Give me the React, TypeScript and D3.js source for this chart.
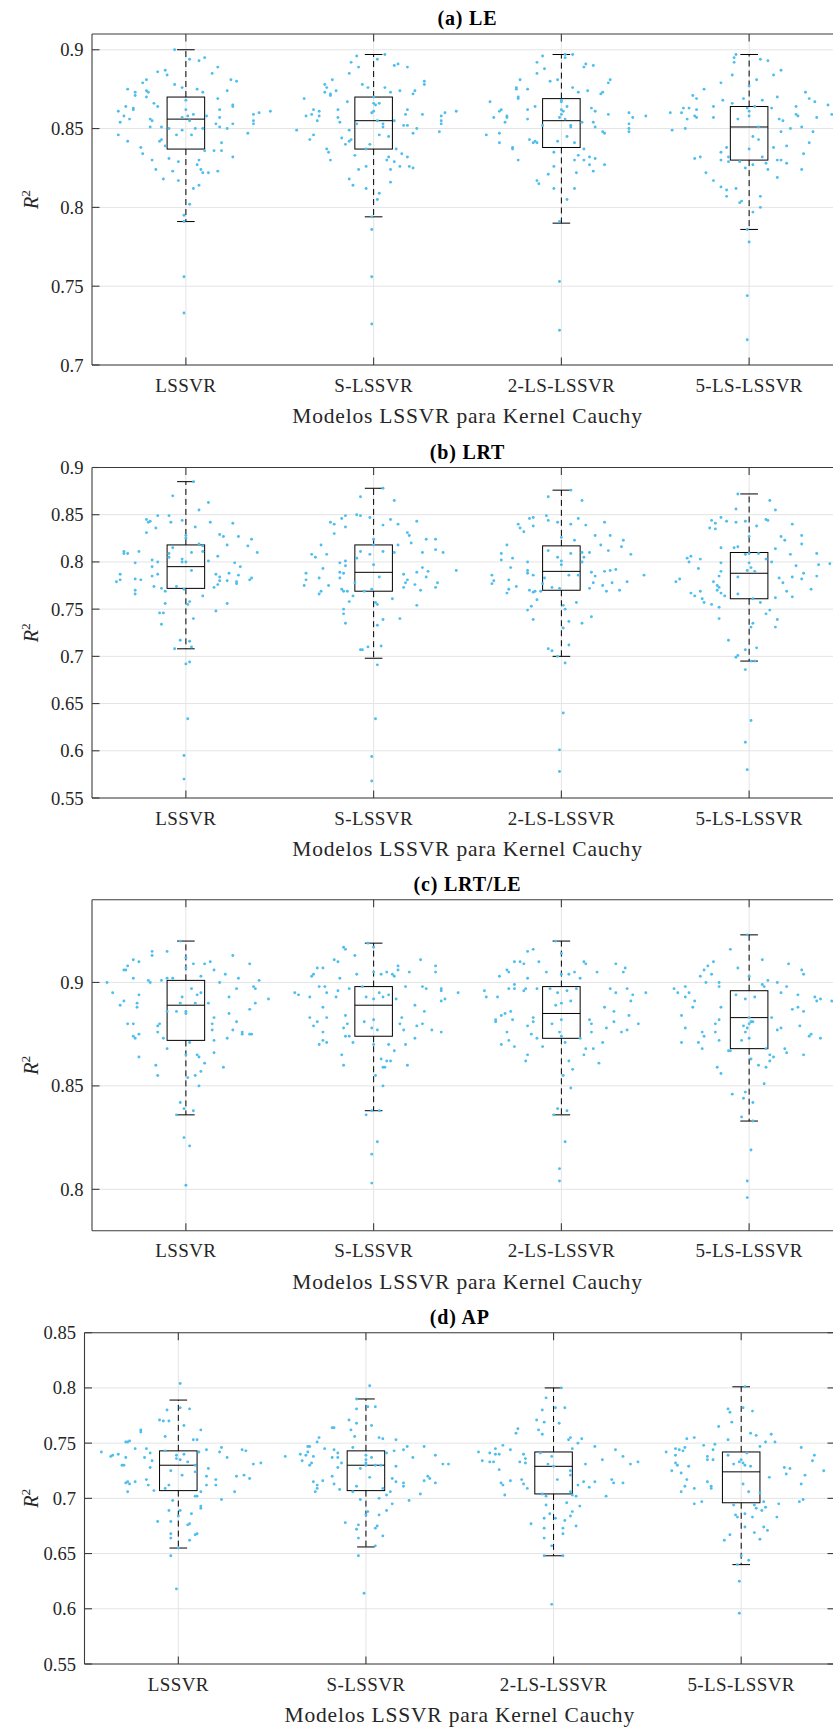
import React from "react";
import * as d3 from "d3";

// ---------- categories ----------
const categories = ["LSSVR", "S-LSSVR", "2-LS-LSSVR", "5-LS-LSSVR"];

// ---------- panel titles & axis ----------
const panelTitles = ["(a) LE", "(b) LRT", "(c) LRT/LE", "(d) AP"];
const xAxisTitle = "Modelos LSSVR para Kernel Cauchy";
const yDomains: [number, number][] = [[0.7, 0.91], [0.55, 0.9], [0.78, 0.94], [0.55, 0.85]];
const yTicksA = [0.7, 0.75, 0.8, 0.85, 0.9];
const yTicksB = [0.55, 0.6, 0.65, 0.7, 0.75, 0.8, 0.85, 0.9];
const yTicksC = [0.8, 0.85, 0.9];
const yTicksD = [0.55, 0.6, 0.65, 0.7, 0.75, 0.8, 0.85];

// ---------- box statistics ----------
const leQ1 = [0.837, 0.837, 0.838, 0.830];
const leMed = [0.856, 0.855, 0.855, 0.851];
const leQ3 = [0.870, 0.870, 0.869, 0.864];
const leLo = [0.791, 0.794, 0.790, 0.786];
const leHi = [0.900, 0.897, 0.897, 0.897];

const lrtQ1 = [0.772, 0.769, 0.770, 0.761];
const lrtMed = [0.795, 0.789, 0.790, 0.788];
const lrtQ3 = [0.818, 0.818, 0.817, 0.810];
const lrtLo = [0.708, 0.698, 0.700, 0.695];
const lrtHi = [0.885, 0.878, 0.876, 0.872];

const lrtleQ1 = [0.872, 0.874, 0.873, 0.868];
const lrtleMed = [0.889, 0.889, 0.885, 0.883];
const lrtleQ3 = [0.901, 0.898, 0.898, 0.896];
const lrtleLo = [0.836, 0.838, 0.836, 0.833];
const lrtleHi = [0.920, 0.919, 0.920, 0.923];

const apQ1 = [0.707, 0.707, 0.704, 0.696];
const apMed = [0.730, 0.730, 0.729, 0.724];
const apQ3 = [0.743, 0.743, 0.742, 0.742];
const apLo = [0.655, 0.656, 0.648, 0.640];
const apHi = [0.789, 0.790, 0.800, 0.801];

// ---------- scatter points: [jitter (category units), R2] ----------
const leG1 = [[-0.06,0.900],[0.02,0.894],[0.07,0.893],[0.10,0.895],[0.17,0.889],[-0.11,0.887],[-0.10,0.884],[-0.15,0.886],[0.14,0.885],[-0.21,0.881],[-0.23,0.879],[-0.06,0.878],[-0.02,0.876],[0.24,0.881],[0.27,0.880],[-0.31,0.875],[-0.27,0.873],[-0.27,0.871],[-0.21,0.874],[-0.20,0.873],[-0.21,0.870],[0.06,0.875],[0.09,0.873],[0.22,0.874],[0.17,0.869],[-0.17,0.866],[-0.15,0.864],[0.00,0.868],[0.25,0.865],[0.25,0.864],[-0.36,0.861],[-0.32,0.864],[-0.28,0.863],[-0.28,0.862],[-0.33,0.858],[-0.30,0.856],[-0.35,0.854],[-0.19,0.856],[-0.18,0.855],[-0.19,0.851],[0.00,0.862],[0.04,0.859],[-0.02,0.857],[0.01,0.858],[0.11,0.858],[0.18,0.862],[0.18,0.857],[0.16,0.853],[0.18,0.851],[0.25,0.853],[0.22,0.850],[0.36,0.859],[0.39,0.860],[0.36,0.855],[0.36,0.853],[0.45,0.861],[0.33,0.847],[-0.36,0.846],[-0.31,0.842],[-0.13,0.851],[-0.09,0.850],[-0.05,0.846],[-0.02,0.849],[0.02,0.855],[0.05,0.850],[0.09,0.850],[0.03,0.846],[-0.14,0.842],[-0.13,0.843],[-0.11,0.839],[-0.24,0.838],[-0.23,0.834],[-0.18,0.830],[-0.16,0.824],[-0.12,0.818],[-0.09,0.831],[-0.07,0.823],[-0.04,0.829],[-0.04,0.817],[0.10,0.836],[0.15,0.836],[0.19,0.841],[0.19,0.836],[0.25,0.832],[0.07,0.830],[0.06,0.827],[0.08,0.824],[0.09,0.822],[0.12,0.822],[0.17,0.823],[0.04,0.812],[0.07,0.814],[0.02,0.802],[-0.01,0.795],[-0.01,0.791],[-0.01,0.756],[-0.01,0.733]];
const leG2 = [[-0.09,0.896],[0.06,0.897],[-0.12,0.892],[-0.08,0.889],[-0.13,0.885],[0.02,0.894],[0.11,0.890],[0.13,0.891],[0.18,0.889],[-0.22,0.881],[-0.26,0.878],[-0.25,0.876],[-0.26,0.873],[-0.23,0.872],[-0.23,0.871],[-0.20,0.874],[-0.06,0.878],[-0.03,0.876],[0.06,0.876],[0.09,0.873],[0.14,0.874],[0.21,0.872],[0.22,0.874],[0.27,0.880],[0.27,0.878],[-0.37,0.869],[-0.14,0.867],[0.00,0.870],[0.00,0.866],[0.01,0.865],[0.03,0.866],[-0.32,0.862],[-0.29,0.861],[-0.36,0.858],[-0.33,0.859],[-0.29,0.858],[-0.30,0.855],[-0.19,0.862],[-0.19,0.857],[-0.18,0.854],[-0.01,0.860],[0.00,0.861],[0.18,0.862],[0.17,0.859],[0.26,0.859],[0.38,0.860],[0.36,0.858],[0.36,0.855],[0.36,0.853],[0.44,0.861],[0.02,0.855],[0.11,0.855],[0.05,0.853],[0.05,0.851],[-0.09,0.853],[-0.13,0.849],[0.16,0.852],[0.18,0.852],[0.23,0.850],[0.21,0.847],[-0.41,0.849],[-0.32,0.846],[-0.34,0.843],[-0.17,0.844],[-0.15,0.840],[-0.13,0.842],[-0.12,0.843],[-0.02,0.840],[0.03,0.846],[0.08,0.845],[0.35,0.848],[-0.04,0.837],[-0.25,0.837],[-0.24,0.835],[-0.23,0.830],[-0.10,0.833],[-0.08,0.824],[-0.04,0.826],[0.12,0.837],[0.15,0.834],[0.18,0.832],[0.08,0.832],[0.07,0.830],[0.11,0.829],[0.14,0.826],[0.19,0.826],[0.21,0.825],[0.09,0.824],[-0.13,0.818],[-0.11,0.814],[-0.04,0.812],[0.09,0.816],[0.03,0.809],[0.02,0.805],[-0.01,0.794],[-0.01,0.786],[-0.01,0.756],[-0.01,0.726]];
const leG3 = [[0.02,0.897],[0.06,0.897],[0.02,0.895],[-0.10,0.896],[-0.13,0.892],[-0.09,0.888],[-0.13,0.885],[-0.02,0.881],[-0.06,0.880],[0.12,0.889],[0.13,0.891],[0.17,0.890],[0.26,0.881],[0.25,0.879],[-0.22,0.881],[-0.24,0.876],[-0.24,0.875],[-0.18,0.875],[-0.23,0.870],[-0.23,0.869],[-0.38,0.867],[-0.32,0.862],[-0.33,0.861],[-0.36,0.857],[-0.29,0.858],[-0.29,0.857],[-0.30,0.854],[-0.40,0.846],[-0.33,0.847],[-0.33,0.841],[-0.26,0.838],[-0.26,0.837],[-0.23,0.830],[-0.14,0.864],[-0.18,0.862],[-0.18,0.856],[0.00,0.868],[0.00,0.867],[0.03,0.864],[0.00,0.862],[0.01,0.861],[0.00,0.859],[0.02,0.856],[-0.01,0.857],[0.06,0.876],[0.09,0.873],[0.14,0.874],[0.21,0.872],[0.22,0.873],[0.16,0.863],[0.18,0.861],[0.25,0.859],[0.11,0.854],[0.17,0.854],[0.18,0.851],[0.05,0.852],[0.05,0.851],[0.03,0.845],[-0.10,0.852],[0.22,0.848],[0.23,0.847],[0.36,0.860],[0.38,0.857],[0.36,0.853],[0.36,0.850],[0.36,0.848],[0.45,0.858],[-0.17,0.843],[-0.15,0.841],[-0.14,0.842],[-0.13,0.841],[-0.02,0.842],[0.07,0.841],[-0.04,0.835],[0.12,0.837],[0.09,0.833],[0.07,0.830],[0.12,0.830],[0.15,0.832],[0.18,0.831],[0.17,0.823],[0.15,0.827],[0.23,0.827],[-0.04,0.826],[-0.07,0.821],[-0.13,0.817],[-0.12,0.815],[-0.04,0.812],[0.08,0.822],[0.07,0.812],[0.03,0.805],[-0.01,0.791],[-0.01,0.753],[-0.01,0.722]];
const leG4 = [[-0.07,0.897],[-0.08,0.895],[-0.08,0.892],[-0.09,0.884],[0.06,0.894],[0.10,0.893],[0.17,0.887],[0.13,0.884],[0.04,0.881],[-0.15,0.879],[-0.24,0.875],[0.00,0.877],[-0.30,0.871],[-0.28,0.869],[-0.28,0.862],[-0.35,0.863],[-0.32,0.863],[-0.36,0.860],[-0.33,0.856],[-0.34,0.850],[-0.42,0.860],[-0.41,0.849],[-0.29,0.858],[-0.28,0.857],[-0.19,0.864],[-0.19,0.857],[-0.14,0.868],[-0.09,0.866],[-0.03,0.869],[-0.01,0.863],[0.00,0.861],[0.00,0.858],[0.03,0.864],[0.07,0.868],[0.12,0.863],[-0.06,0.856],[0.05,0.851],[0.02,0.845],[0.05,0.843],[0.15,0.870],[0.16,0.856],[0.18,0.855],[0.17,0.848],[0.22,0.850],[0.25,0.864],[0.25,0.859],[0.26,0.858],[0.30,0.873],[0.32,0.869],[0.35,0.867],[0.36,0.857],[0.28,0.851],[0.34,0.848],[0.32,0.841],[0.29,0.834],[0.28,0.824],[0.42,0.865],[0.44,0.859],[0.00,0.837],[0.07,0.832],[0.09,0.828],[0.13,0.838],[0.20,0.839],[0.15,0.830],[0.17,0.830],[0.20,0.828],[0.10,0.824],[0.15,0.819],[-0.12,0.838],[-0.15,0.835],[-0.15,0.830],[-0.11,0.832],[-0.11,0.829],[-0.05,0.829],[-0.02,0.825],[0.02,0.827],[-0.29,0.831],[-0.26,0.832],[-0.23,0.822],[-0.19,0.817],[-0.15,0.813],[-0.12,0.811],[-0.12,0.807],[-0.07,0.812],[-0.04,0.804],[-0.05,0.803],[0.06,0.807],[0.06,0.800],[0.02,0.797],[-0.01,0.786],[0.00,0.778],[-0.01,0.744],[-0.01,0.716]];

const lrtG1 = [[0.04,0.885],[-0.07,0.870],[0.12,0.863],[0.07,0.855],[-0.21,0.845],[-0.19,0.843],[-0.20,0.842],[-0.15,0.849],[-0.16,0.836],[-0.09,0.849],[-0.08,0.842],[-0.02,0.844],[-0.21,0.831],[0.13,0.842],[0.05,0.837],[0.00,0.828],[0.00,0.825],[0.25,0.841],[0.18,0.829],[0.20,0.827],[0.22,0.818],[0.28,0.827],[0.35,0.824],[0.33,0.817],[0.38,0.810],[0.09,0.817],[0.07,0.819],[-0.33,0.811],[-0.33,0.809],[-0.31,0.809],[-0.25,0.811],[-0.07,0.815],[-0.09,0.809],[-0.02,0.803],[0.03,0.810],[0.09,0.811],[-0.18,0.802],[-0.15,0.800],[-0.18,0.795],[-0.15,0.787],[-0.18,0.785],[-0.09,0.805],[-0.02,0.800],[0.00,0.800],[0.03,0.791],[-0.27,0.799],[-0.35,0.787],[-0.37,0.779],[-0.35,0.781],[-0.27,0.782],[-0.24,0.781],[-0.27,0.770],[-0.27,0.766],[-0.17,0.774],[-0.13,0.772],[-0.11,0.769],[-0.05,0.774],[-0.01,0.771],[0.12,0.801],[0.17,0.806],[0.26,0.799],[0.29,0.795],[0.16,0.787],[0.18,0.784],[0.18,0.780],[0.17,0.776],[0.15,0.773],[0.23,0.788],[0.22,0.780],[0.27,0.779],[0.27,0.777],[0.28,0.786],[0.35,0.783],[0.34,0.781],[0.09,0.764],[0.02,0.758],[0.01,0.755],[0.04,0.740],[-0.11,0.756],[-0.12,0.746],[-0.14,0.746],[-0.13,0.734],[0.16,0.748],[0.22,0.756],[-0.03,0.717],[-0.06,0.708],[0.02,0.716],[0.03,0.710],[0.00,0.692],[0.02,0.694],[0.01,0.634],[-0.01,0.595],[-0.01,0.570]];
const lrtG2 = [[0.05,0.878],[-0.07,0.869],[0.11,0.865],[-0.09,0.850],[-0.07,0.849],[-0.02,0.847],[-0.15,0.849],[-0.17,0.846],[-0.23,0.842],[-0.21,0.840],[-0.15,0.837],[0.05,0.839],[0.09,0.845],[0.13,0.840],[0.23,0.843],[-0.21,0.830],[0.00,0.824],[0.18,0.831],[0.19,0.828],[0.20,0.820],[-0.28,0.818],[0.00,0.818],[0.13,0.818],[0.28,0.824],[0.33,0.824],[-0.33,0.808],[-0.31,0.805],[-0.25,0.808],[-0.07,0.811],[-0.02,0.808],[0.05,0.811],[0.11,0.810],[0.26,0.810],[0.33,0.813],[0.37,0.810],[-0.15,0.801],[-0.18,0.799],[-0.15,0.796],[-0.09,0.804],[0.00,0.797],[-0.27,0.793],[0.26,0.794],[0.29,0.790],[0.23,0.789],[0.28,0.784],[0.44,0.791],[-0.18,0.789],[-0.16,0.788],[-0.18,0.783],[-0.10,0.778],[-0.36,0.788],[-0.36,0.781],[-0.37,0.775],[-0.29,0.783],[-0.24,0.775],[0.03,0.784],[0.16,0.787],[0.18,0.781],[0.17,0.778],[0.16,0.773],[0.22,0.776],[0.34,0.778],[0.33,0.773],[0.25,0.770],[-0.29,0.766],[-0.28,0.769],[-0.17,0.771],[-0.16,0.769],[-0.14,0.769],[-0.11,0.764],[-0.13,0.758],[-0.05,0.769],[-0.01,0.771],[0.10,0.761],[-0.16,0.750],[-0.16,0.745],[-0.15,0.735],[0.01,0.757],[0.02,0.755],[0.14,0.740],[0.05,0.739],[0.02,0.733],[0.23,0.754],[-0.07,0.707],[-0.06,0.707],[-0.03,0.710],[0.04,0.711],[0.02,0.691],[0.01,0.634],[-0.01,0.594],[-0.01,0.568]];
const lrtG3 = [[0.05,0.876],[-0.07,0.869],[0.11,0.865],[-0.08,0.849],[-0.07,0.844],[-0.02,0.842],[0.05,0.840],[0.09,0.846],[0.13,0.839],[0.23,0.842],[-0.17,0.846],[-0.15,0.847],[-0.23,0.840],[-0.22,0.836],[-0.20,0.832],[-0.15,0.838],[0.00,0.826],[0.07,0.823],[0.18,0.828],[0.26,0.828],[0.33,0.823],[0.32,0.816],[-0.29,0.818],[0.21,0.818],[-0.32,0.809],[-0.26,0.804],[-0.32,0.802],[-0.18,0.800],[-0.07,0.812],[-0.02,0.805],[0.00,0.801],[0.05,0.809],[0.11,0.810],[0.12,0.805],[0.11,0.800],[0.15,0.810],[0.25,0.812],[0.37,0.808],[-0.27,0.794],[-0.18,0.791],[-0.18,0.788],[-0.15,0.786],[0.00,0.797],[0.04,0.786],[0.09,0.786],[0.16,0.789],[0.18,0.785],[0.23,0.790],[0.26,0.791],[0.29,0.792],[0.44,0.786],[-0.37,0.786],[-0.37,0.777],[-0.36,0.780],[-0.28,0.781],[-0.24,0.774],[-0.28,0.771],[-0.29,0.767],[-0.09,0.783],[-0.10,0.777],[-0.17,0.770],[-0.15,0.768],[-0.14,0.769],[-0.11,0.769],[-0.05,0.773],[-0.01,0.772],[0.17,0.778],[0.15,0.772],[0.22,0.775],[0.27,0.778],[0.24,0.769],[0.31,0.770],[0.35,0.779],[-0.13,0.760],[-0.16,0.753],[-0.18,0.749],[-0.15,0.739],[0.01,0.754],[0.02,0.750],[0.08,0.757],[0.04,0.737],[0.01,0.730],[0.16,0.742],[0.11,0.735],[0.04,0.712],[-0.07,0.708],[-0.05,0.706],[-0.02,0.700],[0.02,0.693],[0.01,0.640],[-0.01,0.601],[-0.01,0.578]];
const lrtG4 = [[-0.06,0.872],[0.11,0.865],[0.14,0.855],[-0.07,0.856],[-0.20,0.844],[-0.18,0.841],[-0.15,0.847],[-0.12,0.843],[-0.07,0.842],[-0.02,0.843],[0.04,0.838],[0.09,0.845],[0.10,0.844],[-0.21,0.836],[-0.18,0.835],[0.00,0.827],[0.23,0.840],[0.17,0.827],[0.19,0.823],[0.28,0.828],[0.28,0.819],[-0.15,0.815],[-0.08,0.815],[-0.06,0.816],[0.14,0.814],[-0.02,0.808],[0.00,0.809],[0.05,0.809],[0.09,0.803],[0.12,0.800],[0.22,0.808],[0.36,0.809],[-0.33,0.804],[-0.31,0.806],[-0.26,0.803],[-0.32,0.800],[-0.27,0.793],[-0.15,0.799],[-0.15,0.790],[-0.16,0.785],[0.00,0.799],[0.01,0.794],[-0.01,0.791],[0.03,0.790],[-0.06,0.784],[0.25,0.796],[0.37,0.797],[0.43,0.798],[0.29,0.788],[0.36,0.785],[-0.39,0.779],[-0.37,0.782],[-0.19,0.779],[-0.17,0.775],[-0.16,0.773],[-0.15,0.767],[-0.13,0.764],[-0.17,0.770],[-0.31,0.767],[-0.29,0.764],[-0.26,0.769],[-0.25,0.761],[-0.24,0.757],[-0.20,0.755],[0.16,0.783],[0.18,0.778],[0.23,0.784],[0.28,0.782],[0.33,0.771],[0.20,0.769],[0.23,0.763],[0.14,0.762],[-0.16,0.752],[-0.06,0.766],[0.02,0.761],[0.06,0.757],[0.11,0.749],[0.09,0.745],[0.15,0.739],[0.14,0.731],[-0.16,0.740],[-0.11,0.717],[0.02,0.735],[0.01,0.731],[-0.07,0.699],[-0.06,0.701],[-0.02,0.707],[0.04,0.709],[0.01,0.695],[0.03,0.695],[-0.02,0.686],[0.01,0.632],[-0.02,0.609],[-0.01,0.580]];

const lrtleG1 = [[-0.03,0.920],[0.00,0.912],[-0.18,0.915],[-0.10,0.915],[-0.18,0.913],[-0.28,0.911],[-0.25,0.910],[-0.31,0.908],[-0.33,0.906],[-0.32,0.906],[0.04,0.909],[0.10,0.909],[0.13,0.910],[0.15,0.906],[0.25,0.913],[0.34,0.909],[0.00,0.907],[-0.13,0.901],[-0.10,0.902],[-0.07,0.902],[-0.42,0.900],[-0.39,0.895],[-0.28,0.902],[-0.20,0.901],[-0.19,0.900],[0.18,0.900],[0.21,0.904],[0.28,0.902],[0.36,0.898],[0.39,0.901],[0.37,0.897],[0.08,0.903],[0.03,0.897],[0.08,0.895],[0.06,0.894],[0.27,0.897],[-0.25,0.894],[-0.26,0.890],[-0.26,0.888],[-0.35,0.889],[-0.33,0.891],[-0.02,0.893],[-0.03,0.890],[0.00,0.886],[0.00,0.885],[-0.05,0.886],[0.05,0.890],[0.12,0.890],[0.23,0.893],[0.44,0.892],[0.37,0.890],[0.34,0.887],[0.15,0.883],[0.14,0.880],[0.14,0.877],[0.15,0.872],[0.23,0.885],[0.25,0.877],[0.22,0.873],[0.34,0.875],[-0.10,0.886],[-0.15,0.879],[-0.15,0.876],[-0.14,0.880],[-0.12,0.873],[-0.31,0.880],[-0.28,0.880],[-0.28,0.874],[-0.27,0.873],[-0.25,0.875],[0.27,0.881],[0.30,0.876],[0.30,0.875],[0.35,0.875],[0.02,0.871],[-0.10,0.868],[0.00,0.865],[0.06,0.865],[0.07,0.864],[0.10,0.861],[0.15,0.866],[0.20,0.859],[-0.25,0.864],[-0.16,0.860],[-0.15,0.855],[0.01,0.854],[0.05,0.855],[0.08,0.857],[0.07,0.850],[-0.03,0.842],[-0.01,0.839],[0.04,0.838],[-0.05,0.836],[-0.01,0.825],[0.02,0.821],[0.00,0.802]];
const lrtleG2 = [[-0.03,0.919],[0.00,0.917],[-0.16,0.917],[-0.15,0.916],[-0.10,0.913],[-0.21,0.911],[-0.19,0.910],[-0.30,0.907],[-0.27,0.907],[-0.33,0.903],[-0.32,0.904],[-0.18,0.902],[-0.09,0.904],[0.00,0.905],[0.04,0.904],[0.07,0.905],[0.10,0.904],[0.11,0.903],[0.13,0.908],[0.13,0.906],[0.19,0.905],[0.25,0.911],[0.33,0.908],[0.33,0.905],[-0.29,0.898],[-0.26,0.898],[-0.13,0.897],[-0.06,0.898],[-0.42,0.895],[-0.40,0.894],[-0.34,0.893],[-0.25,0.895],[-0.20,0.893],[-0.19,0.896],[-0.04,0.893],[0.00,0.892],[0.03,0.895],[0.05,0.893],[0.08,0.894],[0.12,0.892],[0.17,0.898],[0.26,0.898],[0.28,0.897],[0.36,0.897],[0.36,0.896],[0.36,0.891],[0.38,0.892],[0.45,0.895],[-0.27,0.888],[-0.34,0.883],[-0.25,0.883],[-0.30,0.881],[-0.32,0.879],[-0.27,0.876],[-0.15,0.884],[-0.14,0.880],[-0.16,0.878],[-0.15,0.874],[-0.13,0.874],[-0.05,0.881],[0.00,0.882],[-0.01,0.878],[0.02,0.877],[0.15,0.883],[0.14,0.880],[0.16,0.877],[0.22,0.889],[0.27,0.886],[0.23,0.879],[0.26,0.880],[0.31,0.877],[0.36,0.876],[-0.27,0.872],[-0.25,0.871],[-0.29,0.870],[-0.11,0.871],[0.00,0.870],[0.08,0.870],[0.11,0.867],[0.17,0.870],[0.22,0.873],[-0.17,0.865],[-0.16,0.860],[0.04,0.863],[0.07,0.862],[0.09,0.862],[0.05,0.859],[0.06,0.859],[0.18,0.860],[0.01,0.855],[0.05,0.850],[-0.04,0.836],[-0.01,0.838],[0.03,0.838],[0.02,0.823],[-0.01,0.817],[-0.01,0.803]];
const lrtleG3 = [[-0.03,0.920],[0.00,0.914],[-0.18,0.915],[-0.15,0.916],[-0.22,0.910],[-0.20,0.909],[-0.25,0.910],[-0.12,0.910],[0.12,0.910],[0.13,0.909],[0.29,0.909],[0.34,0.907],[0.33,0.905],[-0.29,0.906],[-0.28,0.905],[-0.33,0.903],[-0.08,0.905],[0.00,0.904],[0.04,0.904],[0.07,0.905],[0.10,0.902],[0.19,0.905],[-0.18,0.902],[-0.25,0.899],[-0.41,0.896],[-0.40,0.893],[-0.34,0.893],[-0.28,0.897],[-0.25,0.897],[-0.20,0.896],[-0.19,0.897],[-0.13,0.897],[-0.06,0.897],[-0.02,0.895],[0.03,0.896],[0.08,0.897],[0.26,0.897],[0.29,0.895],[0.35,0.897],[0.38,0.894],[0.45,0.895],[0.37,0.891],[0.05,0.891],[0.00,0.890],[-0.03,0.889],[0.23,0.888],[0.28,0.886],[0.36,0.884],[0.41,0.880],[-0.27,0.886],[-0.30,0.885],[-0.32,0.884],[-0.35,0.882],[-0.35,0.881],[-0.26,0.882],[-0.15,0.883],[-0.15,0.881],[-0.18,0.879],[0.00,0.882],[-0.05,0.880],[0.15,0.882],[0.16,0.880],[0.16,0.876],[0.24,0.878],[0.28,0.881],[0.32,0.876],[0.35,0.877],[-0.29,0.876],[-0.16,0.875],[-0.13,0.873],[-0.01,0.876],[0.00,0.874],[0.10,0.873],[-0.32,0.870],[-0.28,0.872],[-0.25,0.869],[-0.10,0.869],[0.02,0.871],[0.13,0.868],[0.17,0.868],[0.22,0.871],[0.20,0.861],[-0.18,0.865],[-0.19,0.862],[0.12,0.865],[0.04,0.862],[0.06,0.858],[0.01,0.855],[0.05,0.849],[-0.02,0.839],[0.03,0.838],[-0.04,0.836],[0.02,0.823],[-0.01,0.810],[-0.01,0.804]];
const lrtleG4 = [[-0.01,0.923],[-0.10,0.916],[0.07,0.911],[-0.06,0.907],[-0.19,0.910],[-0.22,0.908],[-0.24,0.906],[-0.26,0.903],[-0.20,0.904],[0.00,0.903],[0.10,0.901],[0.15,0.900],[0.21,0.909],[0.28,0.906],[0.29,0.904],[-0.23,0.900],[-0.16,0.900],[-0.16,0.898],[0.07,0.899],[0.08,0.898],[0.20,0.898],[-0.34,0.898],[-0.40,0.897],[-0.38,0.895],[-0.32,0.895],[-0.34,0.893],[-0.29,0.891],[-0.30,0.888],[-0.07,0.894],[-0.02,0.892],[0.03,0.893],[0.17,0.895],[0.26,0.894],[0.35,0.893],[0.36,0.891],[0.38,0.892],[0.44,0.891],[-0.15,0.888],[-0.36,0.884],[-0.34,0.878],[-0.36,0.871],[0.23,0.887],[0.26,0.888],[0.29,0.886],[0.12,0.883],[0.00,0.883],[0.01,0.881],[0.00,0.880],[0.02,0.881],[-0.16,0.882],[-0.18,0.880],[-0.16,0.872],[-0.18,0.876],[-0.03,0.879],[-0.01,0.878],[-0.02,0.876],[0.15,0.877],[0.17,0.878],[0.27,0.879],[-0.25,0.876],[-0.24,0.874],[-0.27,0.871],[-0.25,0.868],[-0.04,0.872],[0.00,0.873],[-0.11,0.867],[-0.10,0.867],[0.09,0.868],[0.11,0.865],[0.11,0.862],[0.13,0.864],[0.19,0.868],[0.20,0.866],[0.29,0.865],[0.32,0.874],[0.33,0.875],[0.38,0.873],[-0.17,0.859],[-0.15,0.856],[0.01,0.863],[0.05,0.860],[0.09,0.859],[0.08,0.851],[-0.02,0.847],[-0.09,0.846],[0.02,0.842],[-0.03,0.844],[-0.04,0.835],[0.02,0.833],[0.01,0.819],[-0.01,0.804],[-0.01,0.796]];

const apG1 = [[0.01,0.804],[0.01,0.782],[0.06,0.781],[-0.06,0.780],[-0.05,0.770],[-0.08,0.770],[-0.07,0.756],[-0.10,0.771],[0.03,0.766],[-0.20,0.762],[-0.20,0.760],[0.12,0.762],[-0.28,0.751],[-0.27,0.751],[-0.26,0.752],[0.08,0.753],[0.10,0.753],[-0.23,0.745],[-0.17,0.745],[-0.15,0.741],[-0.14,0.734],[-0.18,0.737],[-0.41,0.742],[-0.36,0.738],[-0.35,0.739],[-0.32,0.740],[-0.28,0.737],[-0.30,0.730],[-0.29,0.730],[-0.15,0.728],[-0.13,0.707],[-0.07,0.743],[-0.01,0.739],[-0.01,0.736],[0.01,0.735],[0.03,0.740],[0.05,0.733],[0.02,0.721],[0.09,0.730],[0.09,0.724],[0.11,0.742],[0.15,0.744],[0.23,0.746],[0.22,0.742],[0.26,0.737],[0.16,0.727],[0.15,0.720],[0.12,0.706],[0.15,0.712],[0.20,0.717],[0.20,0.712],[-0.17,0.717],[-0.16,0.712],[-0.28,0.714],[-0.27,0.715],[-0.26,0.713],[-0.27,0.706],[-0.23,0.715],[-0.04,0.725],[-0.05,0.712],[0.34,0.744],[0.36,0.743],[0.40,0.731],[0.44,0.732],[0.31,0.720],[0.35,0.721],[0.38,0.718],[0.30,0.706],[0.23,0.699],[0.09,0.702],[0.10,0.702],[-0.03,0.698],[-0.07,0.709],[0.01,0.689],[0.00,0.684],[-0.05,0.689],[-0.11,0.679],[-0.04,0.679],[0.07,0.686],[0.06,0.677],[0.05,0.676],[0.12,0.691],[0.12,0.693],[-0.04,0.668],[-0.04,0.664],[0.10,0.668],[0.09,0.667],[0.06,0.662],[0.00,0.655],[-0.04,0.648],[-0.01,0.618]];
const apG2 = [[0.02,0.802],[-0.05,0.790],[0.01,0.783],[0.05,0.783],[-0.05,0.781],[-0.09,0.771],[-0.05,0.768],[0.03,0.766],[-0.08,0.762],[-0.06,0.756],[-0.18,0.764],[-0.17,0.764],[-0.25,0.755],[-0.26,0.751],[0.07,0.755],[0.09,0.754],[0.16,0.753],[-0.31,0.747],[-0.30,0.747],[-0.31,0.742],[-0.35,0.740],[-0.32,0.739],[-0.28,0.738],[-0.34,0.734],[-0.29,0.732],[-0.30,0.730],[-0.43,0.738],[-0.22,0.745],[-0.17,0.744],[-0.15,0.741],[-0.15,0.737],[-0.18,0.737],[-0.13,0.732],[-0.15,0.728],[-0.07,0.746],[0.11,0.741],[0.15,0.743],[0.20,0.744],[0.22,0.747],[0.31,0.747],[0.25,0.737],[0.37,0.739],[0.00,0.739],[0.03,0.737],[0.00,0.735],[0.00,0.732],[0.00,0.730],[0.05,0.730],[0.08,0.730],[-0.03,0.727],[0.02,0.719],[0.16,0.729],[0.41,0.731],[0.44,0.731],[-0.23,0.716],[-0.18,0.720],[-0.28,0.715],[-0.26,0.712],[-0.26,0.709],[-0.27,0.706],[-0.17,0.713],[-0.14,0.708],[-0.07,0.706],[-0.05,0.711],[0.09,0.709],[0.11,0.703],[0.13,0.706],[0.14,0.718],[0.16,0.715],[0.20,0.714],[0.20,0.711],[0.23,0.698],[0.29,0.704],[0.31,0.716],[0.33,0.720],[0.34,0.718],[0.37,0.714],[-0.03,0.699],[0.07,0.700],[0.14,0.695],[0.01,0.688],[0.00,0.685],[0.07,0.685],[0.11,0.689],[-0.11,0.678],[-0.04,0.676],[-0.05,0.672],[-0.04,0.664],[0.06,0.675],[0.05,0.673],[0.09,0.666],[0.05,0.657],[-0.04,0.648],[-0.01,0.614]];
const apG3 = [[0.04,0.800],[-0.04,0.791],[0.01,0.782],[0.06,0.782],[-0.06,0.780],[-0.09,0.771],[-0.05,0.769],[0.03,0.768],[-0.19,0.763],[-0.20,0.759],[-0.08,0.762],[-0.06,0.758],[0.09,0.755],[0.08,0.753],[0.15,0.754],[0.13,0.750],[-0.40,0.742],[-0.38,0.734],[-0.34,0.741],[-0.34,0.733],[-0.32,0.733],[-0.31,0.740],[-0.31,0.745],[-0.29,0.740],[-0.29,0.726],[-0.27,0.748],[-0.23,0.744],[-0.18,0.733],[-0.16,0.740],[-0.15,0.732],[-0.15,0.736],[-0.07,0.741],[-0.01,0.738],[0.00,0.729],[-0.03,0.731],[0.10,0.745],[0.22,0.747],[0.26,0.735],[0.33,0.744],[0.37,0.738],[0.41,0.731],[0.45,0.733],[0.17,0.731],[0.09,0.725],[0.09,0.721],[-0.28,0.714],[-0.27,0.712],[-0.26,0.703],[-0.23,0.716],[-0.17,0.717],[-0.16,0.713],[-0.14,0.709],[0.02,0.717],[0.13,0.712],[0.16,0.715],[0.19,0.710],[0.22,0.715],[0.31,0.717],[0.32,0.714],[0.37,0.714],[0.28,0.702],[-0.06,0.704],[0.09,0.706],[0.10,0.703],[-0.04,0.702],[-0.04,0.694],[-0.02,0.686],[0.07,0.696],[0.10,0.688],[0.14,0.693],[0.12,0.702],[-0.12,0.677],[-0.05,0.682],[-0.05,0.673],[-0.05,0.664],[0.01,0.682],[0.06,0.680],[0.09,0.684],[0.12,0.675],[0.05,0.673],[0.05,0.668],[-0.01,0.657],[-0.05,0.648],[0.05,0.648],[-0.01,0.604]];
const apG4 = [[0.02,0.801],[0.01,0.782],[0.06,0.779],[-0.07,0.781],[-0.06,0.778],[-0.05,0.769],[-0.12,0.765],[0.05,0.759],[0.08,0.757],[0.16,0.758],[0.18,0.751],[0.13,0.751],[0.10,0.747],[-0.07,0.753],[-0.25,0.755],[-0.29,0.754],[-0.20,0.748],[-0.14,0.749],[-0.15,0.744],[-0.15,0.735],[-0.18,0.735],[-0.18,0.738],[-0.35,0.745],[-0.33,0.744],[-0.30,0.746],[-0.31,0.743],[-0.40,0.742],[-0.35,0.739],[-0.35,0.732],[-0.34,0.730],[-0.28,0.729],[-0.32,0.723],[-0.37,0.725],[-0.07,0.739],[0.03,0.741],[-0.01,0.733],[0.00,0.735],[0.01,0.732],[0.02,0.730],[0.05,0.729],[-0.04,0.731],[0.32,0.746],[0.39,0.739],[0.38,0.734],[0.34,0.721],[0.32,0.713],[0.23,0.728],[0.26,0.727],[0.24,0.722],[0.44,0.725],[0.15,0.719],[0.01,0.713],[0.04,0.706],[0.10,0.705],[-0.29,0.717],[-0.30,0.711],[-0.32,0.706],[-0.25,0.709],[-0.21,0.697],[-0.25,0.695],[-0.16,0.711],[-0.18,0.715],[-0.16,0.709],[-0.04,0.694],[0.07,0.694],[0.08,0.691],[0.11,0.689],[0.12,0.697],[0.13,0.692],[0.20,0.695],[0.19,0.683],[0.31,0.697],[0.33,0.699],[-0.03,0.685],[-0.02,0.683],[0.02,0.686],[0.06,0.683],[-0.09,0.662],[-0.06,0.667],[0.02,0.674],[0.07,0.669],[0.12,0.674],[0.14,0.671],[0.10,0.663],[0.00,0.648],[0.04,0.644],[-0.02,0.640],[-0.01,0.625],[-0.01,0.596]];

// ---------- assemble (library tables) ----------
const panels = [
  { title: panelTitles[0], domain: yDomains[0], ticks: yTicksA, groups: [leG1, leG2, leG3, leG4], q1: leQ1, med: leMed, q3: leQ3, lo: leLo, hi: leHi },
  { title: panelTitles[1], domain: yDomains[1], ticks: yTicksB, groups: [lrtG1, lrtG2, lrtG3, lrtG4], q1: lrtQ1, med: lrtMed, q3: lrtQ3, lo: lrtLo, hi: lrtHi },
  { title: panelTitles[2], domain: yDomains[2], ticks: yTicksC, groups: [lrtleG1, lrtleG2, lrtleG3, lrtleG4], q1: lrtleQ1, med: lrtleMed, q3: lrtleQ3, lo: lrtleLo, hi: lrtleHi },
  { title: panelTitles[3], domain: yDomains[3], ticks: yTicksD, groups: [apG1, apG2, apG3, apG4], q1: apQ1, med: apMed, q3: apQ3, lo: apLo, hi: apHi },
];

// ---------- layout (pixels) ----------
const W = 833;
const H = 1729;
const frames = [
  { left: 92, right: 843, top: 34, bottom: 365 },
  { left: 92, right: 843, top: 467.5, bottom: 798 },
  { left: 92, right: 843, top: 899.7, bottom: 1230.7 },
  { left: 84.5, right: 835, top: 1332.7, bottom: 1664 },
];

const FONT = "Liberation Serif";
const AXIS = "#3c3c3c";
const GRID = "#e4e4e4";
const TEXT = "#262626";
const DOT = "#4DBEEE";
const TICK = 7.5;

function Panel({ p, f }: { p: any; f: any }) {
  const x = d3.scaleLinear().domain([0.5, 4.5]).range([f.left, f.right]);
  const y = d3.scaleLinear().domain(p.domain).range([f.bottom, f.top]);
  const cx = (f.left + f.right) / 2;
  const cy = (f.top + f.bottom) / 2;
  const fmt = (v: number) => String(+v.toFixed(2));
  return (
    <g>
      {/* grid */}
      {p.ticks.map((t: number) => (
        <line key={"gy" + t} x1={f.left} x2={f.right} y1={y(t)} y2={y(t)} stroke={GRID} strokeWidth={1} />
      ))}
      {categories.map((c, i) => (
        <line key={"gx" + c} x1={x(i + 1)} x2={x(i + 1)} y1={f.top} y2={f.bottom} stroke={GRID} strokeWidth={1} />
      ))}
      {/* boxes */}
      {categories.map((c, i) => {
        const k = i + 1;
        return (
          <g key={"box" + c} stroke="#000" strokeWidth={1} fill="none">
            <line x1={x(k)} x2={x(k)} y1={y(p.q3[i])} y2={y(p.hi[i])} strokeDasharray="6 4" />
            <line x1={x(k)} x2={x(k)} y1={y(p.q1[i])} y2={y(p.lo[i])} strokeDasharray="6 4" />
            <line x1={x(k - 0.047)} x2={x(k + 0.047)} y1={y(p.hi[i])} y2={y(p.hi[i])} />
            <line x1={x(k - 0.047)} x2={x(k + 0.047)} y1={y(p.lo[i])} y2={y(p.lo[i])} />
            <rect x={x(k - 0.1)} width={x(k + 0.1) - x(k - 0.1)} y={y(p.q3[i])} height={y(p.q1[i]) - y(p.q3[i])} />
            <line x1={x(k - 0.1)} x2={x(k + 0.1)} y1={y(p.med[i])} y2={y(p.med[i])} />
          </g>
        );
      })}
      {/* scatter */}
      {p.groups.map((g: number[][], i: number) =>
        g.map((d, j) => (
          <circle key={"pt" + i + "_" + j} cx={x(i + 1 + d[0])} cy={y(d[1])} r={1.45} fill={DOT} />
        ))
      )}
      {/* axes frame */}
      <g stroke={AXIS} strokeWidth={1.1}>
        <line x1={f.left} x2={f.right} y1={f.top} y2={f.top} />
        <line x1={f.left} x2={f.right} y1={f.bottom} y2={f.bottom} />
        <line x1={f.left} x2={f.left} y1={f.top} y2={f.bottom} />
        <line x1={f.right} x2={f.right} y1={f.top} y2={f.bottom} />
        {p.ticks.map((t: number) => (
          <g key={"t" + t}>
            <line x1={f.left} x2={f.left + TICK} y1={y(t)} y2={y(t)} />
            <line x1={f.right} x2={f.right - TICK} y1={y(t)} y2={y(t)} />
          </g>
        ))}
        {categories.map((c, i) => (
          <g key={"tx" + c}>
            <line x1={x(i + 1)} x2={x(i + 1)} y1={f.bottom} y2={f.bottom - TICK} />
            <line x1={x(i + 1)} x2={x(i + 1)} y1={f.top} y2={f.top + TICK} />
          </g>
        ))}
      </g>
      {/* tick labels */}
      {p.ticks.map((t: number) => (
        <text key={"tl" + t} x={f.left - 8.5} y={y(t)} dy="0.35em" textAnchor="end" fontFamily={FONT} fontSize={18.6} fill={TEXT}>
          {fmt(t)}
        </text>
      ))}
      {categories.map((c, i) => (
        <text key={"cl" + c} x={x(i + 1)} y={f.bottom + 26.5} textAnchor="middle" fontFamily={FONT} fontSize={19} letterSpacing={0.4} fill={TEXT}>
          {c}
        </text>
      ))}
      {/* axis titles */}
      <text x={cx} y={f.bottom + 58} textAnchor="middle" fontFamily={FONT} fontSize={21.5} letterSpacing={0.8} fill={TEXT}>
        {xAxisTitle}
      </text>
      <text transform={`translate(37.5, ${cy}) rotate(-90)`} textAnchor="middle" fontFamily={FONT} fontSize={20} fill={TEXT}>
        <tspan fontStyle="italic">R</tspan>
        <tspan fontSize={13.5} dy={-8}>2</tspan>
      </text>
      {/* panel title */}
      <text x={cx} y={f.top - 9} textAnchor="middle" fontFamily={FONT} fontSize={20} fontWeight="bold" letterSpacing={0.8} fill="#000">
        {p.title}
      </text>
    </g>
  );
}

export default function App() {
  return (
    <svg
      width={W}
      height={H}
      viewBox={`0 0 ${W} ${H}`}
      style={{ position: "absolute", left: 0, top: 0, background: "#fff", display: "block" }}
    >
      <rect x={0} y={0} width={W} height={H} fill="#fff" />
      {panels.map((p, i) => (
        <Panel key={p.title} p={p} f={frames[i]} />
      ))}
    </svg>
  );
}
